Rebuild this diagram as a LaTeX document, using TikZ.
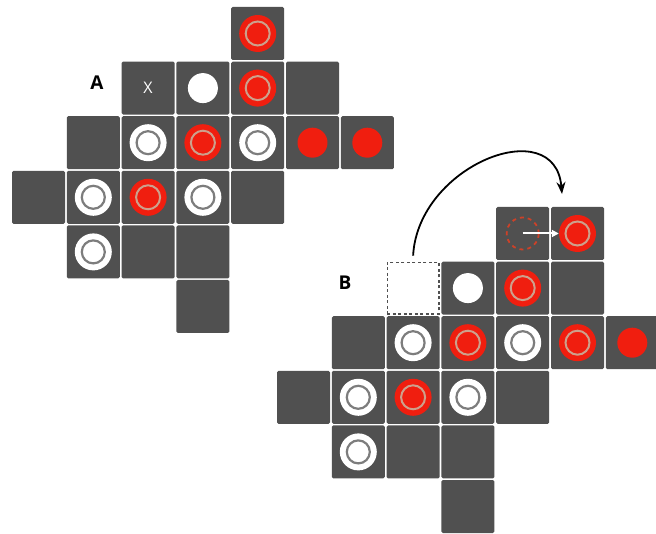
\documentclass[tikz,border=0pt]{standalone}
\usepackage{fontspec}
\setmainfont{Open Sans}
\usetikzlibrary{arrows.meta}
\definecolor{tilec}{RGB}{80,80,80}
\definecolor{redc}{RGB}{240,30,15}
\definecolor{ringg}{RGB}{125,125,125}
\definecolor{ringt}{RGB}{205,160,140}
\definecolor{dashr}{RGB}{205,65,40}
\begin{document}
\begin{tikzpicture}[x=1pt,y=-1pt,
  tile/.style={rectangle,rounded corners=1.5pt,fill=tilec,minimum size=53pt,inner sep=0pt},
  ghost/.style={rectangle,fill=white,draw=tilec,dash pattern=on 3pt off 2.5pt,line width=1.4pt,minimum size=51.5pt,inner sep=0pt},
  wring/.style={circle,fill=white,minimum size=37pt,inner sep=0pt,
    path picture={\draw[ringg,line width=2.2pt] (path picture bounding box.center) circle (11.5pt);}},
  rring/.style={circle,fill=redc,minimum size=37pt,inner sep=0pt,
    path picture={\draw[ringt,line width=2pt] (path picture bounding box.center) circle (12pt);}},
  rdot/.style={circle,fill=redc,minimum size=30pt,inner sep=0pt},
  wdot/.style={circle,fill=white,minimum size=30pt,inner sep=0pt},
  dring/.style={circle,draw=dashr,dash pattern=on 4pt off 4pt,line width=1.8pt,minimum size=32pt,inner sep=0pt},
  lab/.style={font=\bfseries\fontsize{19}{21}\selectfont,text=black},
  xlab/.style={font=\fontsize{16}{18}\selectfont,text=white}]
\useasboundingbox[fill=white] (0,0) rectangle (656,534);
% ---------- Diagram A ----------
\foreach \c/\r in {4/0,2/1,3/1,4/1,5/1,1/2,2/2,3/2,4/2,5/2,6/2,0/3,1/3,2/3,3/3,4/3,1/4,2/4,3/4,3/5}
  \node[tile] (a\c\r) at ({38.5+\c*54.8},{33.5+\r*54.6}) {};
\foreach \c/\r/\s in {4/0/rring,3/1/wdot,4/1/rring,2/2/wring,3/2/rring,4/2/wring,5/2/rdot,6/2/rdot,1/3/wring,2/3/rring,3/3/wring,1/4/wring}
  \node[\s] (a\c\r p) at (a\c\r) {};
\node[xlab] (ax) at (a21) {X};
\node[lab] (la) at (97,83) {A};
% ---------- Diagram B ----------
\foreach \c/\r in {4/0,5/0,3/1,4/1,5/1,1/2,2/2,3/2,4/2,5/2,6/2,0/3,1/3,2/3,3/3,4/3,1/4,2/4,3/4,3/5}
  \node[tile] (b\c\r) at ({303.5+\c*54.8},{233.5+\r*54.6}) {};
\node[ghost] (b21) at ({303.5+2*54.8},{233.5+54.6}) {};
\foreach \c/\r/\s in {5/0/rring,3/1/wdot,4/1/rring,2/2/wring,3/2/rring,4/2/wring,5/2/rring,6/2/rdot,1/3/wring,2/3/rring,3/3/wring,1/4/wring}
  \node[\s] (b\c\r p) at (b\c\r) {};
\node[dring] (b40p) at (b40) {};
\draw[white,line width=2pt,-{Triangle[length=7pt,width=7pt]}] (b40.center) -- (b50p.west);
\node[lab] (lb) at (345,283) {B};
\coordinate (arrowend) at (562,194);
\draw[black,line width=1.8pt,-{Stealth[length=12pt,width=9pt]}]
  ([yshift=6pt]b21.north) .. controls (418,165) and (555,112) .. (arrowend);
\end{tikzpicture}
\end{document}
